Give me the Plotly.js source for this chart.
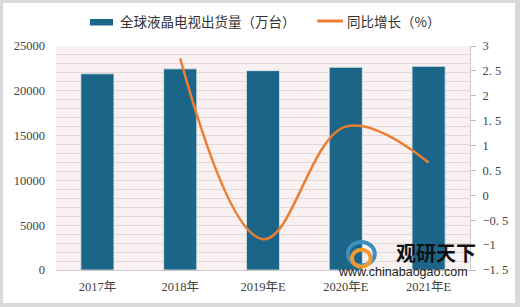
<!DOCTYPE html>
<html><head><meta charset="utf-8">
<script src="https://cdn.plot.ly/plotly-3.0.1.min.js"></script>
<style>
html,body{margin:0;padding:0;width:520px;height:307px;background:#d9d9d9;overflow:hidden;}
#chart{position:absolute;left:3px;top:3px;width:512px;height:300px;background:#fff;}
</style></head>
<body><div id="chart"></div>
<script>
const categories = ["2017年","2018年","2019年E","2020年E","2021年E"];
const shipments = [21900, 22450, 22250, 22620, 22730];
const growth = [null, 2.75, -0.88, 1.38, 0.66];
const seriesNames = ["全球液晶电视出货量（万台）","同比增长（%）"];
const rightTickVals = [-1.5,-1,-0.5,0,0.5,1,1.5,2,2.5,3];
const rightTickText = ["−1. 5","−1","−0. 5","0","0. 5","1","1. 5","2","2. 5","3"];
const leftTickVals = [0,5000,10000,15000,20000,25000];
const leftTickText = ["0","5000","10000","15000","20000","25000"];

const barColor = "#1b6688", lineColor = "#ed7d31";
const fontFam = "Liberation Serif, Noto Sans CJK SC, serif";
const cjk = "Noto Sans CJK SC, sans-serif";
const traces = [
  {type:"bar", name:seriesNames[0], x:categories, y:shipments,
   marker:{color:barColor, line:{color:"#dfe8ee", width:0.8}}, yaxis:"y"},
  {type:"scatter", mode:"lines", name:seriesNames[1], x:categories, y:growth,
   line:{color:lineColor, width:2.5, shape:"spline", smoothing:1.1}, yaxis:"y2", connectgaps:false}
];
const layout = {
  width:512, height:300,
  margin:{l:53, r:45, t:43, b:33},
  paper_bgcolor:"#ffffff", plot_bgcolor:"#f9f1f1",
  bargap:0.6,
  showlegend:false,
  font:{family:fontFam, size:12, color:"#444"},
  xaxis:{type:"category", showgrid:false, zeroline:false, showline:true, linecolor:"#d0c8c8",
    tickfont:{family:fontFam, size:12.5, color:"#444"}, ticks:"", ticklabelstandoff:5},
  yaxis:{range:[0,25000], tickvals:leftTickVals, ticktext:leftTickText, showgrid:true, gridcolor:"#e2d8d8", gridwidth:1,
    minor:{dtick:1000, showgrid:true, gridcolor:"#e2d8d8", gridwidth:1},
    zeroline:false, showline:false, ticks:"", tickfont:{family:fontFam, size:12.5, color:"#444"},
    ticklabelstandoff:10},
  yaxis2:{overlaying:"y", side:"right", range:[-1.5,3], tickvals:rightTickVals, ticktext:rightTickText,
    showgrid:false, zeroline:false, showline:true, linecolor:"#cccccc", ticks:"outside", ticklen:5,
    tickcolor:"#bbbbbb", tickfont:{family:fontFam, size:12.5, color:"#444"}, ticklabelstandoff:4},
  shapes:[
    {type:"rect", xref:"paper", yref:"paper", x0:0.0821, x1:0.1377, y0:1.0915, y1:1.1205,
     fillcolor:barColor, line:{width:0}},
    {type:"line", xref:"paper", yref:"paper", x0:0.631, x1:0.693, y0:1.1116, y1:1.1116,
     line:{color:lineColor, width:3}},
    // watermark logo (approximation)
    {type:"circle", xref:"paper", yref:"paper", x0:0.705, x1:0.77, y0:0.02, y1:0.125,
     fillcolor:"rgba(0,0,0,0)", line:{color:"#3d8fc0", width:4}},
    {type:"circle", xref:"paper", yref:"paper", x0:0.715, x1:0.76, y0:0.015, y1:0.09,
     fillcolor:"rgba(0,0,0,0)", line:{color:"#f29a2e", width:4}}
  ],
  annotations:[
    {xref:"paper", yref:"paper", x:0.1498, y:1.1116, xanchor:"left", yanchor:"middle",
     text:seriesNames[0], showarrow:false, font:{family:cjk, size:13.5, color:"#333"}},
    {xref:"paper", yref:"paper", x:0.698, y:1.1116, xanchor:"left", yanchor:"middle",
     text:seriesNames[1], showarrow:false, font:{family:cjk, size:13.5, color:"#333"}},
    {xref:"paper", yref:"paper", x:1.02, y:0.08, xanchor:"right", yanchor:"middle",
     text:"<b>观研天下</b>", showarrow:false, font:{family:"Noto Sans CJK SC", size:20, color:"#111"}},
    {xref:"paper", yref:"paper", x:1.0, y:-0.01, xanchor:"right", yanchor:"middle",
     text:"www.chinabaogao.com", showarrow:false, font:{family:"Liberation Sans, sans-serif", size:12.5, color:"#222"}}
  ]
};
Plotly.newPlot("chart", traces, layout, {displayModeBar:false, staticPlot:true});
</script></body></html>
